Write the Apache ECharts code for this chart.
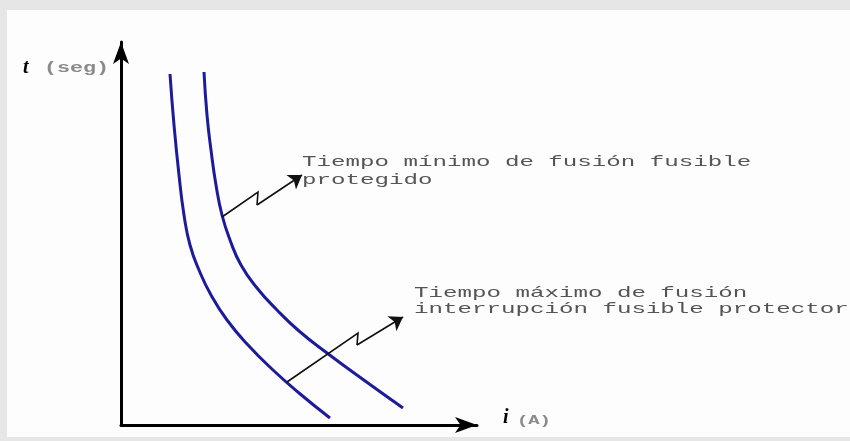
<!DOCTYPE html>
<html>
<head>
<meta charset="utf-8">
<script src="https://cdn.jsdelivr.net/npm/echarts@6/dist/echarts.min.js"></script>
<style>
  html, body { margin: 0; padding: 0; }
  #chart { width: 850px; height: 441px; }
</style>
</head>
<body>
<div id="chart"></div>
<script>
// corriente (eje i) y tiempo (eje t), unidades arbitrarias del esquema
const corrienteMax = [49, 53, 58, 63, 69, 78, 90, 106, 127, 152, 178, 209];
const tiempoMax = [351, 300, 250, 210, 180, 155, 130, 105, 80, 55, 32, 7];

const corrienteMin = [83, 86, 90, 95, 101, 109, 120, 136, 156, 178, 206, 240, 282];
const tiempoMin = [353, 310, 275, 240, 210, 185, 160, 137, 115, 94, 72, 47, 17];

// flechas en zigzag de las anotaciones
const flechaMin = [[101, 208], [137, 233], [136, 220], [181, 250]];
const flechaMax = [[166, 43], [237, 92], [236, 80], [282, 108]];

const textoMin = ['Tiempo mínimo de fusión fusible', 'protegido'];
const textoMax = ['Tiempo máximo de fusión', 'interrupción fusible protector'];

const zip = (xs, ys) => xs.map((x, i) => [x, ys[i]]);

const chart = echarts.init(document.getElementById('chart'));

const mono = (size, weight) => `${weight || 'normal'} ${size}px "Liberation Mono"`;

// zigzag sin la punta + ultimo tramo con punta de flecha
const zigzag = (pts) => ({ coords: pts.slice(0, 3) });
const punta = (pts) => ({ coords: pts.slice(2) });

chart.setOption({
  animation: false,
  backgroundColor: '#e6e6e6',
  grid: { left: 121, right: 373, top: 42, bottom: 16 },
  xAxis: {
    type: 'value', min: 0, max: 356,
    axisLine: { show: true, symbol: ['none', 'arrow'], symbolSize: [12, 22], lineStyle: { color: '#000', width: 3 } },
    axisTick: { show: false }, axisLabel: { show: false }, splitLine: { show: false }
  },
  yAxis: {
    type: 'value', min: 0, max: 383,
    axisLine: { show: true, symbol: ['none', 'arrow'], symbolSize: [12, 22], lineStyle: { color: '#000', width: 3 } },
    axisTick: { show: false }, axisLabel: { show: false }, splitLine: { show: false }
  },
  graphic: [
    { type: 'rect', z: -10, shape: { x: 7, y: 10, width: 843, height: 427 }, style: { fill: '#fdfdfd' } },
    { type: 'text', x: 23, y: 68, style: { text: 't', font: 'italic bold 20px "Liberation Serif"', fill: '#000', verticalAlign: 'middle' } },
    { type: 'text', x: 44, y: 68, scaleX: 1.55, style: { text: '(seg)', font: mono(14, 'bold'), fill: '#8a8a8a', verticalAlign: 'middle' } },
    { type: 'text', x: 503, y: 418, style: { text: 'i', font: 'italic bold 20px "Liberation Serif"', fill: '#000', verticalAlign: 'middle' } },
    { type: 'text', x: 517, y: 421, scaleX: 1.57, style: { text: '(A)', font: mono(12, 'bold'), fill: '#8a8a8a', verticalAlign: 'middle' } },
    { type: 'text', x: 302, y: 162, scaleX: 1.61, style: { text: textoMin[0], font: mono(15), fill: '#555', verticalAlign: 'middle' } },
    { type: 'text', x: 302, y: 180, scaleX: 1.61, style: { text: textoMin[1], font: mono(15), fill: '#555', verticalAlign: 'middle' } },
    { type: 'text', x: 414, y: 293, scaleX: 1.61, style: { text: textoMax[0], font: mono(15), fill: '#555', verticalAlign: 'middle' } },
    { type: 'text', x: 414, y: 309, scaleX: 1.61, style: { text: textoMax[1], font: mono(15), fill: '#555', verticalAlign: 'middle' } }
  ],
  series: [
    {
      name: 'max', type: 'line', data: zip(corrienteMax, tiempoMax),
      smooth: 0.5, showSymbol: false, lineStyle: { color: '#1c1c9a', width: 3 }
    },
    {
      name: 'min', type: 'line', data: zip(corrienteMin, tiempoMin),
      smooth: 0.5, showSymbol: false, lineStyle: { color: '#1c1c9a', width: 3 }
    },
    {
      type: 'lines', coordinateSystem: 'cartesian2d', polyline: true, z: 5,
      lineStyle: { color: '#111', width: 1.6, opacity: 1 },
      data: [zigzag(flechaMin), zigzag(flechaMax)]
    },
    {
      type: 'lines', coordinateSystem: 'cartesian2d', z: 5,
      symbol: ['none', 'arrow'], symbolSize: [8, 13],
      lineStyle: { color: '#111', width: 1.6, opacity: 1 },
      data: [punta(flechaMin), punta(flechaMax)]
    }
  ]
});
</script>
</body>
</html>
